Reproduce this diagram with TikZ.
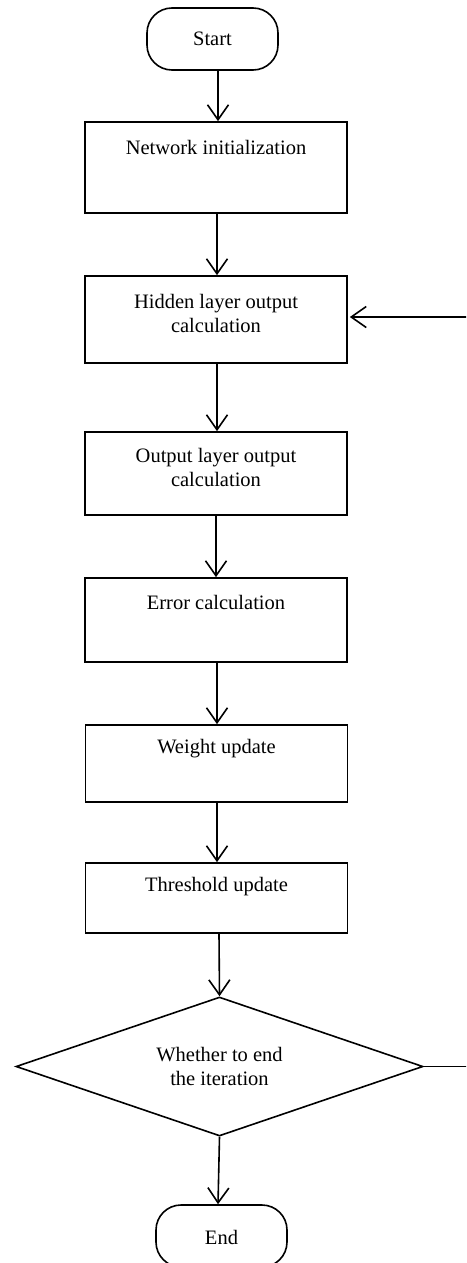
\documentclass[tikz,border=0pt]{standalone}
\usepackage{fontspec}
\setmainfont{Liberation Serif}
\usetikzlibrary{shapes.geometric,arrows.meta}

\begin{document}
\begin{tikzpicture}[x=1pt,y=-1pt,
  every node/.style={font=\fontsize{20.5}{24}\selectfont},
  procbox/.style={draw, line width=1.7pt, minimum width=262pt, inner sep=0pt},
  termbox/.style={draw, line width=1.6pt, rounded corners=25pt,
    minimum width=131pt, minimum height=62pt, inner sep=0pt},
  decbox/.style={draw, diamond, line width=1.6pt, minimum width=407pt,
    minimum height=139pt, inner sep=0pt},
  label/.style={align=center, inner sep=0pt},
  flow/.style={line width=1.6pt, -{Straight Barb[length=15pt,width=21pt,line width=1.6pt]}}
]
% canvas
\clip (0,0) rectangle (466,1263);
\fill[white] (0,0) rectangle (466,1263);

% terminals
\node[termbox] (S) at (212.5,39) {Start};
\node[termbox] (F) at (221.5,1236) {};
\node[label] (Ft) at (221.5,1237) {End};

% process boxes
\node[procbox, minimum height=91pt] (N) at (216,167.5) {};
\node[label] (Nt) at (216,147) {Network initialization};

\node[procbox, minimum height=87pt] (H) at (216,319.5) {};
\node[label] (Ht) at (216,313) {Hidden layer output\\calculation};

\node[procbox, minimum height=83pt] (O) at (216,473.5) {};
\node[label] (Ot) at (216,467) {Output layer output\\calculation};

\node[procbox, minimum height=84pt] (E) at (216,620) {};
\node[label] (Et) at (216,602) {Error calculation};

\node[procbox, minimum height=77pt] (W) at (216.5,763.5) {};
\node[label] (Wt) at (216.5,749) {Weight update};

\node[procbox, minimum height=70pt] (T) at (216.5,898) {};
\node[label] (Tt) at (216.5,887) {Threshold update};

% decision
\node[decbox] (D) at (219.5,1066.5) {};
\node[label] (Dt) at (219.5,1066) {Whether to end\\the iteration};

% main flow
\draw[flow] (S.south -| 218,0) -- (N.north -| 218,0);
\draw[flow] (N.south -| 217,0) -- (H.north -| 217,0);
\draw[flow] (H.south -| 217,0) -- (O.north -| 217,0);
\draw[flow] (O.south -| 216,0) -- (E.north -| 216,0);
\draw[flow] (E.south -| 217,0) -- (W.north -| 217,0);
\draw[flow] (W.south -| 217,0) -- (T.north -| 217,0);
\draw[flow] (T.south -| 219,0) -- (D.north);
\draw[flow] (D.south) -- (F.north -| 218,0);

% iteration loop back to the hidden layer
\coordinate (LB) at (480,1066.5);
\coordinate (LT) at (480,317);
\draw[flow, shorten >=2pt] (D.east) -- (LB) -- (LT) -- (LT -| H.east);
\end{tikzpicture}
\end{document}
